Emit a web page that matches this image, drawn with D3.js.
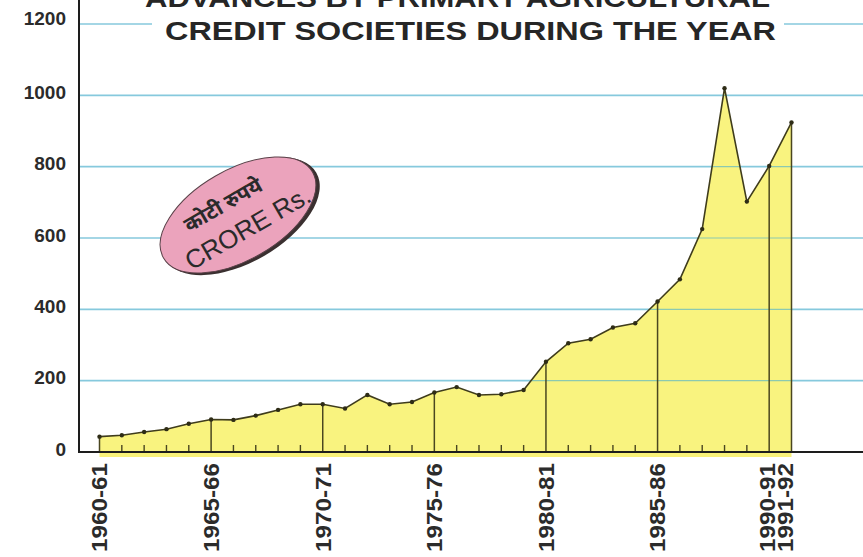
<!DOCTYPE html>
<html>
<head>
<meta charset="utf-8">
<script src="https://cdn.jsdelivr.net/npm/d3@7"></script>
<style>
  body { margin: 0; background: #fff; }
  svg { display: block; }
</style>
</head>
<body>
<script>
// ---- chart data (crore Rs.) ----
var years = ["1960-61","1961-62","1962-63","1963-64","1964-65","1965-66","1966-67","1967-68",
             "1968-69","1969-70","1970-71","1971-72","1972-73","1973-74","1974-75","1975-76",
             "1976-77","1977-78","1978-79","1979-80","1980-81","1981-82","1982-83","1983-84",
             "1984-85","1985-86","1986-87","1987-88","1988-89","1989-90","1990-91","1991-92"];
var advances = [43,47,56,64,79,91,90,102,118,134,134,122,160,134,140,167,
                182,160,162,174,253,305,316,349,361,422,484,625,1020,702,802,924];
var labelledYears = ["1960-61","1965-66","1970-71","1975-76","1980-81","1985-86","1990-91","1991-92"];
var yTicks = [0,200,400,600,800,1000,1200];
var titleLines = ["ADVANCES BY PRIMARY AGRICULTURAL", "CREDIT SOCIETIES  DURING THE YEAR"];
var badgeText = ["कोटी रुपये", "CRORE Rs."];

var W = 863, H = 557;
var svg = d3.select("body").append("svg").attr("width", W).attr("height", H);

var x = d3.scaleLinear().domain([0, years.length - 1]).range([99.5, 791.5]);
var y = d3.scaleLinear().domain([0, 1200]).range([452, 24]);
var axisX = 79;

// gridlines
svg.append("g").selectAll("line").data(yTicks.filter(function(d){ return d > 0; }))
  .enter().append("line")
  .attr("x1", axisX).attr("x2", W)
  .attr("y1", function(d){ return y(d); }).attr("y2", function(d){ return y(d); })
  .attr("stroke", "#86c9dd").attr("stroke-width", 1.6);

// y labels
svg.append("g").selectAll("text").data(yTicks)
  .enter().append("text")
  .attr("x", 66).attr("y", function(d){ return d == 1200 ? y(d) - 6 : y(d) - 3; })
  .attr("dy", "0.35em")
  .attr("text-anchor", "end")
  .attr("font-family", "Liberation Sans, Arial, sans-serif")
  .attr("font-weight", "bold").attr("font-size", 19).attr("fill", "#2b2b2b")
  .text(function(d){ return d; });

// yellow spill under baseline
svg.append("rect")
  .attr("x", x(0)).attr("y", y(0)).attr("width", x(years.length - 1) - x(0)).attr("height", 5)
  .attr("fill", "#f9f27a");

// area
var area = d3.area()
  .x(function(d, i){ return x(i); })
  .y0(y(0))
  .y1(function(d){ return y(d); });
svg.append("path").datum(advances)
  .attr("d", area)
  .attr("fill", "#f9f37f");

// gridlines seen through the fill
svg.append("clipPath").attr("id", "areaClip").append("path").datum(advances).attr("d", area);
svg.append("g").selectAll("line").data(yTicks.filter(function(d){ return d > 0; }))
  .enter().append("line")
  .attr("x1", axisX).attr("x2", W)
  .attr("y1", function(d){ return y(d); }).attr("y2", function(d){ return y(d); })
  .attr("stroke", "#8cc9b0").attr("stroke-width", 1.2)
  .attr("clip-path", "url(#areaClip)");

// vertical drop lines at labelled years
var dropIdx = labelledYears.map(function(l){ return years.indexOf(l); });
svg.append("g").selectAll("line").data(dropIdx)
  .enter().append("line")
  .attr("x1", function(i){ return x(i); }).attr("x2", function(i){ return x(i); })
  .attr("y1", y(0)).attr("y2", function(i){ return y(advances[i]); })
  .attr("stroke", "#4a4620").attr("stroke-width", 1.5);

// small year ticks
svg.append("g").selectAll("line").data(years.map(function(d, i){ return i; })
    .filter(function(i){ return dropIdx.indexOf(i) < 0; }))
  .enter().append("line")
  .attr("x1", function(i){ return x(i); }).attr("x2", function(i){ return x(i); })
  .attr("y1", y(0)).attr("y2", y(0) - 7)
  .attr("stroke", "#4a4620").attr("stroke-width", 1.4);

// data line + dots
var line = d3.line().x(function(d, i){ return x(i); }).y(function(d){ return y(d); });
svg.append("path").datum(advances)
  .attr("d", line).attr("fill", "none")
  .attr("stroke", "#3f3c1c").attr("stroke-width", 1.6);
svg.append("g").selectAll("circle").data(advances)
  .enter().append("circle")
  .attr("cx", function(d, i){ return x(i); })
  .attr("cy", function(d){ return y(d); })
  .attr("r", 2.2).attr("fill", "#2e2c16");

// axes
svg.append("line").attr("x1", axisX).attr("x2", axisX).attr("y1", 0).attr("y2", y(0) + 1)
  .attr("stroke", "#1d1d1d").attr("stroke-width", 2);
svg.append("line").attr("x1", axisX).attr("x2", W).attr("y1", y(0)).attr("y2", y(0))
  .attr("stroke", "#1d1d1d").attr("stroke-width", 2.2);

// x labels
svg.append("g").selectAll("text").data(labelledYears)
  .enter().append("text")
  .attr("transform", function(d){
    var i = years.indexOf(d);
    var cx = x(i) + (d == "1991-92" ? -6 : (d == "1990-91" ? -2 : 0));
    return "translate(" + cx + "," + 463 + ") rotate(-90)";
  })
  .attr("dy", "0.36em")
  .attr("text-anchor", "end")
  .attr("textLength", 89).attr("lengthAdjust", "spacingAndGlyphs")
  .attr("font-family", "Liberation Sans, Arial, sans-serif")
  .attr("font-weight", "bold").attr("font-size", 22).attr("fill", "#2b2b2b")
  .text(function(d){ return d; });

// title
svg.append("rect").attr("x", 152).attr("y", 10).attr("width", 632).attr("height", 34).attr("fill", "#fff");
svg.append("text")
  .attr("x", 145).attr("y", 7)
  .attr("textLength", 625).attr("lengthAdjust", "spacingAndGlyphs")
  .attr("font-family", "Liberation Sans Narrow, Liberation Sans, Arial, sans-serif")
  .attr("font-weight", "bold").attr("font-size", 26).attr("fill", "#262626")
  .text(titleLines[0]);
svg.append("text")
  .attr("x", 165).attr("y", 40)
  .attr("textLength", 611).attr("lengthAdjust", "spacingAndGlyphs")
  .attr("font-family", "Liberation Sans Narrow, Liberation Sans, Arial, sans-serif")
  .attr("font-weight", "bold").attr("font-size", 26).attr("fill", "#262626")
  .text(titleLines[1]);

// badge
var badge = svg.append("g").attr("transform", "translate(238,215) rotate(-30)");
badge.append("ellipse").attr("cx", 2).attr("cy", 2.5).attr("rx", 87).attr("ry", 46)
  .attr("fill", "#3a3030");
badge.append("ellipse").attr("cx", 0).attr("cy", 0).attr("rx", 86).attr("ry", 45)
  .attr("fill", "#eba3bc").attr("stroke", "#5a4048").attr("stroke-width", 1);
badge.append("text").attr("x", -8).attr("y", -9)
  .attr("text-anchor", "middle")
  .attr("font-family", "Noto Sans, sans-serif").attr("font-weight", "bold")
  .attr("font-size", 21).attr("fill", "#2a2a2a")
  .text(badgeText[0]);
badge.append("text").attr("x", 2).attr("y", 25)
  .attr("text-anchor", "middle")
  .attr("font-family", "Liberation Sans, Arial, sans-serif")
  .attr("font-size", 26).attr("fill", "#2a2a2a")
  .text(badgeText[1]);
</script>
</body>
</html>
